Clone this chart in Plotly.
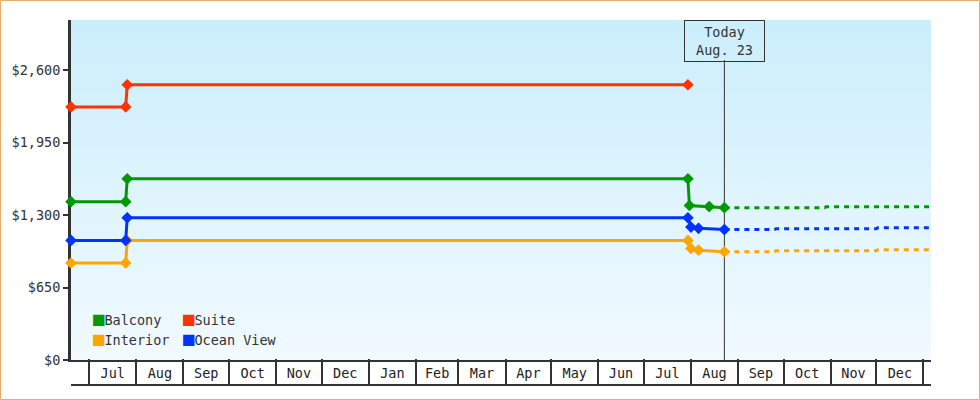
import base64
import plotly.graph_objects as go

FONT = "DejaVu Sans Mono"
AXIS_COLOR = "#333333"
TODAY = "2015-08-23"

# 価格履歴（実線）
BALCONY_DATES = ["2014-06-19", "2014-07-25", "2014-07-26", "2015-07-30", "2015-07-31", "2015-08-13", "2015-08-23"]
BALCONY_PRICES = [1420, 1420, 1626, 1626, 1386, 1376, 1366]
SUITE_DATES = ["2014-06-19", "2014-07-25", "2014-07-26", "2015-07-30"]
SUITE_PRICES = [2270, 2270, 2469, 2469]
OCEAN_DATES = ["2014-06-19", "2014-07-25", "2014-07-26", "2015-07-30", "2015-08-01", "2015-08-06", "2015-08-23"]
OCEAN_PRICES = [1073, 1073, 1276, 1276, 1192, 1181, 1170]
INTERIOR_DATES = ["2014-06-19", "2014-07-25", "2014-07-26", "2015-07-30", "2015-08-01", "2015-08-06", "2015-08-23"]
INTERIOR_PRICES = [870, 870, 1073, 1073, 1000, 985, 972]

# 予測（点線）
BALCONY_FC_DATES = ["2015-08-23", "2015-10-28", "2015-10-29", "2016-01-31"]
BALCONY_FC_PRICES = [1366, 1366, 1375, 1375]
OCEAN_FC_DATES = ["2015-08-23", "2015-09-25", "2015-09-26", "2015-12-01", "2015-12-02", "2016-01-31"]
OCEAN_FC_PRICES = [1170, 1170, 1178, 1178, 1187, 1187]
INTERIOR_FC_DATES = ["2015-08-23", "2015-09-25", "2015-09-26", "2015-12-01", "2015-12-02", "2016-01-31"]
INTERIOR_FC_PRICES = [972, 972, 981, 981, 990, 990]

Y_TICKS = [0, 650, 1300, 1950, 2600]
X_RANGE = ["2014-06-19", "2016-01-06"]

COLORS = {"Balcony": "#009900", "Suite": "#ff3300", "Interior": "#ffa500", "Ocean View": "#0033ff"}

fig = go.Figure()

# 背景グラデーション
svg = ('<svg xmlns="http://www.w3.org/2000/svg" width="100" height="100" viewBox="0 0 100 100" preserveAspectRatio="none">'
       '<defs><linearGradient id="g" x1="0" y1="0" x2="0" y2="1">'
       '<stop offset="0" stop-color="#cbeefc"/><stop offset="1" stop-color="#f1faff"/>'
       '</linearGradient></defs><rect width="100" height="100" fill="url(#g)"/></svg>')
bg_src = "data:image/svg+xml;base64," + base64.b64encode(svg.encode()).decode()
Y_BOTTOM = 25 / 365
fig.add_layout_image(dict(source=bg_src, xref="paper", yref="paper", x=0, y=1, sizex=1, sizey=1 - Y_BOTTOM,
                          xanchor="left", yanchor="top", sizing="stretch", layer="below"))

series = [
    ("Interior", INTERIOR_DATES, INTERIOR_PRICES, INTERIOR_FC_DATES, INTERIOR_FC_PRICES),
    ("Ocean View", OCEAN_DATES, OCEAN_PRICES, OCEAN_FC_DATES, OCEAN_FC_PRICES),
    ("Balcony", BALCONY_DATES, BALCONY_PRICES, BALCONY_FC_DATES, BALCONY_FC_PRICES),
    ("Suite", SUITE_DATES, SUITE_PRICES, None, None),
]
for name, xs, ys, fxs, fys in series:
    c = COLORS[name]
    if fxs:
        fig.add_trace(go.Scatter(x=fxs, y=fys, mode="lines", line=dict(color=c, width=3, dash="5px,5px"),
                                 showlegend=False, hoverinfo="skip"))
    fig.add_trace(go.Scatter(x=xs, y=ys, mode="lines+markers", line=dict(color=c, width=3),
                             marker=dict(symbol="diamond", size=9, color=c),
                             cliponaxis=False, showlegend=False, name=name))

# 凡例（四角はテキストで）
legend_cols = [("legend", ["Balcony", "Interior"]), ("legend2", ["Suite", "Ocean View"])]
for lg, names in legend_cols:
    for name in names:
        label = f'<span style="color:{COLORS[name]};font-size:19px">■</span>{name}'
        fig.add_trace(go.Scatter(x=[None], y=[None], mode="markers", xaxis="x2", name=label,
                                 marker=dict(symbol="square", size=1, color="rgba(0,0,0,0)"),
                                 legend=lg, legendgroup=name))

# 今日の線
fig.add_shape(type="line", xref="x", yref="paper", x0=TODAY, x1=TODAY, y0=Y_BOTTOM, y1=(385 - 60) / 365,
              line=dict(color=AXIS_COLOR, width=1), layer="below")
fig.add_annotation(x=TODAY, y=1, xref="x", yref="paper", yanchor="top", showarrow=False,
                   text="Today<br>Aug. 23", font=dict(family=FONT, size=13.5, color=AXIS_COLOR),
                   bordercolor=AXIS_COLOR, borderwidth=1, borderpad=2, width=75, height=36)

# 外枠
fig.add_shape(type="rect", xref="paper", yref="paper",
              x0=-70.5 / 860, x1=908.5 / 860, y0=(385 - 399.5) / 365, y1=(385 - 0.5) / 365,
              line=dict(color="#e8ac6a", width=1))

leg_style = dict(font=dict(family=FONT, size=13.5, color=AXIS_COLOR), bgcolor="rgba(0,0,0,0)",
                 xanchor="left", yanchor="top", tracegroupgap=0, itemclick=False)

fig.update_layout(
    width=980, height=400, autosize=False,
    margin=dict(l=71, r=49, t=20, b=15),
    paper_bgcolor="white", plot_bgcolor="rgba(0,0,0,0)",
    font=dict(family=FONT, size=13.5, color=AXIS_COLOR),
    xaxis=dict(type="date", range=X_RANGE, anchor="y", showgrid=False, zeroline=False, automargin=False,
               showline=True, linecolor=AXIS_COLOR, linewidth=1.5, ticks="", ticklabelstandoff=0,
               tick0="2014-07-01", dtick="M1", tickformat="%b", ticklabelmode="period",
               tickfont=dict(family=FONT, size=13.5, color="#222222")),
    xaxis2=dict(type="date", range=X_RANGE, overlaying="x", anchor="free", position=0, automargin=False,
                showgrid=False, zeroline=False, showline=True, linecolor=AXIS_COLOR, linewidth=1.5,
                ticks="inside", ticklen=25, tickwidth=1.5, tickcolor=AXIS_COLOR,
                tick0="2014-07-01", dtick="M1", showticklabels=False),
    yaxis=dict(domain=[Y_BOTTOM, 1], range=[0, 3050], tickvals=Y_TICKS, tickformat="$,", automargin=False,
               showgrid=False, zeroline=False, showline=True, linecolor=AXIS_COLOR, linewidth=3,
               ticks="outside", ticklen=5, tickwidth=2, tickcolor=AXIS_COLOR, layer="below traces",
               tickfont=dict(family=FONT, size=13.5, color=AXIS_COLOR)),
    legend=dict(x=(53 - 71) / 860, y=(385 - 304) / 365, **leg_style),
    legend2=dict(x=(143 - 71) / 860, y=(385 - 304) / 365, **leg_style),
    hovermode=False,
)

fig.write_html("out.html", config={"displayModeBar": False},
               post_script="document.body.style.margin='0';")
